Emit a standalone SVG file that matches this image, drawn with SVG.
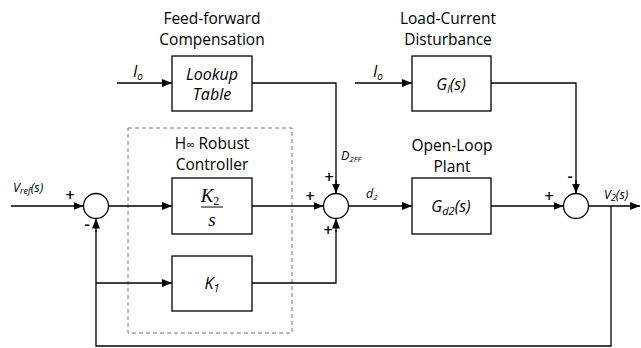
<svg xmlns="http://www.w3.org/2000/svg" width="641" height="348" viewBox="0 0 641 348">
<defs>
<marker id="ah" markerWidth="10" markerHeight="8" refX="10" refY="4" orient="auto" markerUnits="userSpaceOnUse">
<path d="M0,0 L10,4 L0,8 Z" fill="#000"/>
</marker>
<style>
.box{fill:#fff;stroke:#000;stroke-width:1.3}
.sum{fill:#fff;stroke:#000;stroke-width:1.3}
.ln{fill:none;stroke:#000;stroke-width:1.3}
.ar{fill:none;stroke:#000;stroke-width:1.3;marker-end:url(#ah)}
.t{font-family:"Open Sans","Noto Sans",sans-serif;font-size:15.5px;fill:#000;text-anchor:middle}
.i{font-family:"Open Sans","Noto Sans",sans-serif;font-size:16px;font-style:italic;fill:#000;text-anchor:middle}
.s{font-family:"Open Sans","Noto Sans",sans-serif;font-size:12.5px;font-style:italic;fill:#000}
.sg{font-family:"Open Sans","Noto Sans",sans-serif;font-size:16px;font-weight:600;fill:#000;text-anchor:middle}
.tm{font-family:"Liberation Serif",serif;font-size:19px;font-style:italic;fill:#000;text-anchor:middle}
</style>
</defs>
<rect width="641" height="348" fill="#fff"/>
<g id="controller-frame">
<rect x="128" y="128" width="164" height="205" fill="none" stroke="#777" stroke-width="1" stroke-dasharray="4,3"/>
<text class="t" x="212" y="149">H<tspan font-size="12">∞</tspan>  Robust</text>
<text class="t" x="212" y="170">Controller</text>
</g>
<g id="connectors">
<path class="ar" d="M117,83 H172"/>
<path class="ln" d="M252,83 H336 V184"/>
<path class="ar" d="M336,180 V193.5"/>
<path class="ar" d="M355,83 H412"/>
<path class="ln" d="M491,83 H576 V184"/>
<path class="ar" d="M576,180 V193.5"/>
<path class="ar" d="M11,206 H83.5"/>
<path class="ar" d="M108.5,206 H172"/>
<path class="ar" d="M252,206 H323.5"/>
<path class="ar" d="M348.5,206 H412"/>
<path class="ar" d="M491,206 H563.5"/>
<path class="ar" d="M588.5,206 H640"/>
<path class="ln" d="M611,206 V346 H96 V230"/>
<path class="ar" d="M96,232 V218.5"/>
<path class="ar" d="M96,283 H172"/>
<path class="ln" d="M252,283 H336 V230"/>
<path class="ar" d="M336,232 V218.5"/>
</g>
<g id="ff-title"><text class="t" x="212" y="24">Feed-forward</text><text class="t" x="212" y="45">Compensation</text></g>
<g id="lookup">
<rect class="box" x="172" y="56" width="80" height="55"/>
<text class="i" x="212" y="80">Lookup</text>
<text class="i" x="212" y="100">Table</text>
</g>
<g id="io-left"><text class="i" x="138" y="77" font-size="15">I<tspan font-size="10" dy="3">o</tspan></text></g>
<g id="ld-title"><text class="t" x="448" y="24">Load-Current</text><text class="t" x="448" y="45">Disturbance</text></g>
<g id="gl">
<rect class="box" x="412" y="56" width="79" height="55"/>
<text class="i" x="451" y="90" font-size="17">G<tspan font-size="10" dy="3">l</tspan><tspan dy="-3">(s)</tspan></text>
</g>
<g id="io-right"><text class="i" x="378" y="77" font-size="15">I<tspan font-size="10" dy="3">o</tspan></text></g>
<g id="ol-title"><text class="t" x="452" y="151">Open-Loop</text><text class="t" x="452" y="172">Plant</text></g>
<g id="k2s">
<rect class="box" x="172" y="178" width="80" height="56"/>
<text class="tm" x="210" y="202">K<tspan font-size="12" dy="3" font-style="normal">2</tspan></text>
<line x1="201" y1="207" x2="223" y2="207" stroke="#000" stroke-width="1"/>
<text class="tm" x="212" y="226">s</text>
</g>
<g id="k1">
<rect class="box" x="172" y="256" width="80" height="55"/>
<text class="i" x="212" y="289" font-size="17">K<tspan font-size="11" dy="3">1</tspan></text>
</g>
<g id="gd2">
<rect class="box" x="412" y="178" width="79" height="56"/>
<text class="i" x="451" y="212" font-size="17">G<tspan font-size="11" dy="3">d2</tspan><tspan dy="-3">(s)</tspan></text>
</g>
<g id="sum1"><circle class="sum" cx="96" cy="206" r="12.5"/>
<text class="sg" x="70" y="201">+</text><text class="sg" x="87" y="230">-</text></g>
<g id="sum2"><circle class="sum" cx="336" cy="206" r="12.5"/>
<text class="sg" x="329" y="183">+</text><text class="sg" x="310" y="202">+</text><text class="sg" x="328" y="236">+</text></g>
<g id="sum3"><circle class="sum" cx="576" cy="206" r="12.5"/>
<text class="sg" x="570" y="182">-</text><text class="sg" x="549" y="202">+</text></g>
<g id="labels">
<text class="s" x="13" y="192">V<tspan font-size="9" dy="2">ref</tspan><tspan dy="-2">(s)</tspan></text>
<text class="s" x="341" y="160">D<tspan font-size="8" dy="2">2FF</tspan></text>
<text class="s" x="366" y="198">d<tspan font-size="8" dy="2">2</tspan></text>
<text class="s" x="604" y="199">V<tspan font-size="9" dy="2">2</tspan><tspan dy="-2">(s)</tspan></text>
</g>
</svg>
